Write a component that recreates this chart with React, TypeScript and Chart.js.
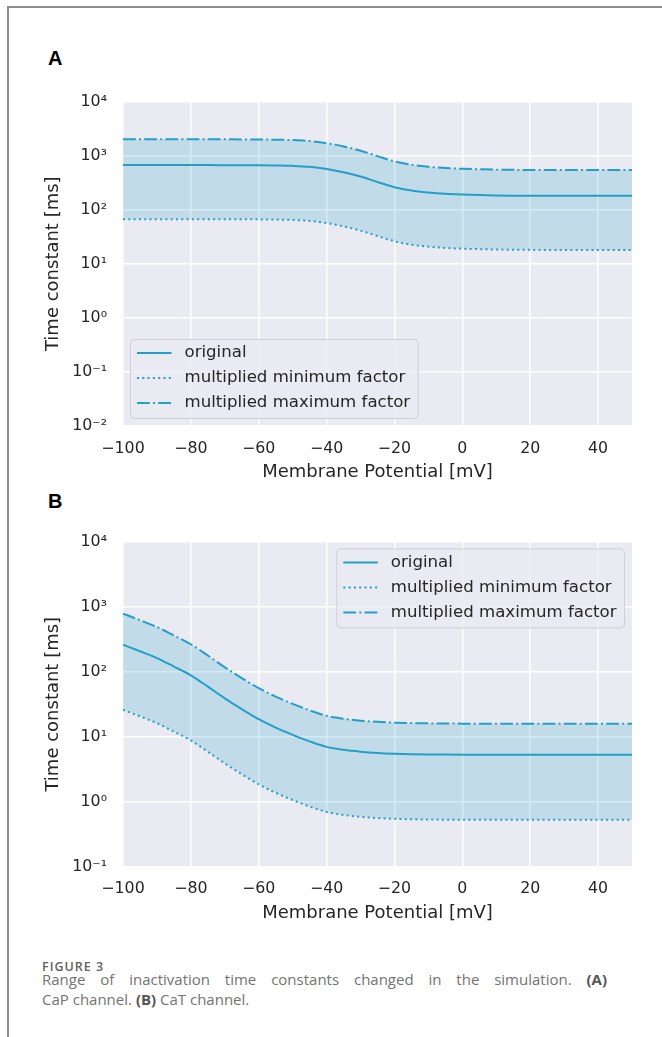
import React, { useEffect, useRef } from "react";
import { Chart, registerables } from "chart.js";

Chart.register(...registerables);

// ---------------- data ----------------
const VOLTAGE = [
  -100, -95, -90, -85, -80, -75, -70, -65, -60, -55, -50, -45, -40, -35, -30, -25,
  -20, -15, -10, -5, 0, 5, 10, 15, 20, 25, 30, 35, 40, 45, 50,
];
const X_TICKS = [-100, -80, -60, -40, -20, 0, 20, 40];

// Panel A: CaP channel
const A_ORIGINAL = [
  667, 667, 667, 667, 666, 666, 665, 664, 661, 655, 645, 620, 565, 490, 410, 325,
  260, 225, 207, 196, 190, 186, 183, 181.5, 180.5, 180, 180, 180, 180, 180, 180,
];
const A_MIN = [
  66.7, 66.7, 66.7, 66.7, 66.6, 66.6, 66.5, 66.4, 66.1, 65.5, 64.5, 62, 56.5, 49, 41, 32.5,
  26, 22.5, 20.7, 19.6, 19, 18.6, 18.3, 18.15, 18.05, 18, 18, 18, 18, 18, 18,
];
const A_MAX = [
  2001, 2001, 2001, 2001, 1998, 1998, 1995, 1992, 1983, 1965, 1935, 1860, 1695, 1470, 1230, 975,
  780, 675, 621, 588, 570, 558, 549, 544.5, 541.5, 540, 540, 540, 540, 540, 540,
];
const A_Y_TICKS = [0.01, 0.1, 1, 10, 100, 1000, 10000];

// Panel B: CaT channel
const B_ORIGINAL = [
  260, 206, 162, 120, 88, 59, 39, 26.6, 18.6, 13.8, 10.7, 8.5, 7.0, 6.3, 5.9, 5.65,
  5.5, 5.41, 5.36, 5.33, 5.31, 5.3, 5.3, 5.3, 5.3, 5.3, 5.3, 5.3, 5.3, 5.3, 5.3,
];
const B_MIN = [
  26, 20.6, 16.2, 12, 8.8, 5.9, 3.9, 2.66, 1.86, 1.38, 1.07, 0.85, 0.7, 0.63, 0.59, 0.565,
  0.55, 0.541, 0.536, 0.533, 0.531, 0.53, 0.53, 0.53, 0.53, 0.53, 0.53, 0.53, 0.53, 0.53, 0.53,
];
const B_MAX = [
  780, 618, 486, 360, 264, 177, 117, 79.8, 55.8, 41.4, 32.1, 25.5, 21, 18.9, 17.7, 16.95,
  16.5, 16.23, 16.08, 15.99, 15.93, 15.9, 15.9, 15.9, 15.9, 15.9, 15.9, 15.9, 15.9, 15.9, 15.9,
];
const B_Y_TICKS = [0.1, 1, 10, 100, 1000, 10000];

const LEGEND_LABELS = ["original", "multiplied minimum factor", "multiplied maximum factor"];
const X_TITLE = "Membrane Potential [mV]";
const Y_TITLE = "Time constant [ms]";

// ---------------- styles ----------------
const LINE_COLOR = "#239fc8";
const FILL_COLOR = "rgba(35,159,200,0.2)";
const DASHES: number[][] = [[], [2, 3.3], [12.8, 3.2, 2, 3.2]];
const TEXT_COLOR = "#262626";
const FONT = '"DejaVu Sans", sans-serif';

const SUP: Record<string, string> = {
  "0": "\u2070", "1": "\u00b9", "2": "\u00b2", "3": "\u00b3", "4": "\u2074",
  "-": "\u207b",
};
function logLabel(v: number): string {
  const e = Math.round(Math.log10(v));
  return "10" + String(e).split("").map((c) => SUP[c]).join("");
}

const bgPlugin = {
  id: "plotBg",
  beforeDraw(chart: any) {
    const { ctx, chartArea: a } = chart;
    ctx.save();
    ctx.fillStyle = "#EAEAF2";
    ctx.fillRect(a.left, a.top, a.right - a.left, a.bottom - a.top);
    ctx.restore();
  },
};

function legendPlugin(pos: "lowerLeft" | "upperRight") {
  return {
    id: "customLegend",
    afterDraw(chart: any) {
      const { ctx, chartArea: a } = chart;
      ctx.save();
      ctx.font = `16.6px ${FONT}`;
      const tw = Math.max(...LEGEND_LABELS.map((t) => ctx.measureText(t).width));
      const w = 54 + tw + 8;
      const h = 79;
      const gap = 7.5;
      const x = pos === "lowerLeft" ? a.left + gap : a.right - gap - w;
      const y = pos === "lowerLeft" ? a.bottom - gap - h : a.top + gap;
      const r = 4;
      ctx.beginPath();
      ctx.moveTo(x + r, y);
      ctx.lineTo(x + w - r, y);
      ctx.arcTo(x + w, y, x + w, y + r, r);
      ctx.lineTo(x + w, y + h - r);
      ctx.arcTo(x + w, y + h, x + w - r, y + h, r);
      ctx.lineTo(x + r, y + h);
      ctx.arcTo(x, y + h, x, y + h - r, r);
      ctx.lineTo(x, y + r);
      ctx.arcTo(x, y, x + r, y, r);
      ctx.closePath();
      ctx.fillStyle = "rgba(234,234,242,0.8)";
      ctx.fill();
      ctx.strokeStyle = "#cfcfd6";
      ctx.lineWidth = 1;
      ctx.stroke();
      LEGEND_LABELS.forEach((label, i) => {
        const cy = y + 13.5 + 25 * i;
        ctx.beginPath();
        ctx.setLineDash(DASHES[i]);
        ctx.strokeStyle = LINE_COLOR;
        ctx.lineWidth = 2;
        ctx.moveTo(x + 6.5, cy);
        ctx.lineTo(x + 41, cy);
        ctx.stroke();
        ctx.setLineDash([]);
        ctx.fillStyle = TEXT_COLOR;
        ctx.textBaseline = "middle";
        ctx.textAlign = "left";
        ctx.fillText(label, x + 54, cy);
      });
      ctx.restore();
    },
  };
}

function makeConfig(
  orig: number[],
  min: number[],
  max: number[],
  yTicks: number[],
  legendPos: "lowerLeft" | "upperRight",
  padTop: number,
  xAxisH: number,
  tickPad: number,
  titlePadBottom: number
): any {
  const pts = (vals: number[]) => VOLTAGE.map((v, i) => ({ x: v, y: vals[i] }));
  const common = {
    borderColor: LINE_COLOR,
    borderWidth: 2,
    pointRadius: 0,
    cubicInterpolationMode: "monotone",
  };
  return {
    type: "line",
    data: {
      datasets: [
        { ...common, label: LEGEND_LABELS[0], data: pts(orig), borderDash: DASHES[0], fill: false },
        { ...common, label: LEGEND_LABELS[1], data: pts(min), borderDash: DASHES[1], fill: false },
        {
          ...common,
          label: LEGEND_LABELS[2],
          data: pts(max),
          borderDash: DASHES[2],
          fill: 1,
          backgroundColor: FILL_COLOR,
        },
      ],
    },
    options: {
      animation: false,
      responsive: false,
      events: [],
      layout: { padding: { left: 0, right: 30, top: padTop, bottom: 0 } },
      plugins: { legend: { display: false }, tooltip: { enabled: false } },
      scales: {
        x: {
          type: "linear",
          min: -100,
          max: 50,
          afterBuildTicks: (s: any) => {
            s.ticks = X_TICKS.map((v) => ({ value: v }));
          },
          afterFit: (s: any) => {
            s.height = xAxisH;
          },
          grid: { color: "#ffffff", lineWidth: 1.5, drawTicks: false },
          border: { display: false },
          ticks: {
            autoSkip: false,
            maxRotation: 0,
            padding: tickPad,
            color: TEXT_COLOR,
            font: { family: FONT, size: 15.8 },
            callback: (v: any) => String(v).replace("-", "\u2212"),
          },
          title: {
            display: true,
            text: X_TITLE,
            color: TEXT_COLOR,
            font: { family: FONT, size: 18 },
            padding: { top: 0, bottom: titlePadBottom },
          },
        },
        y: {
          type: "logarithmic",
          min: yTicks[0],
          max: yTicks[yTicks.length - 1],
          afterBuildTicks: (s: any) => {
            s.ticks = yTicks.map((v) => ({ value: v }));
          },
          afterFit: (s: any) => {
            s.width = 123;
          },
          grid: { color: "#ffffff", lineWidth: 1.5, drawTicks: false },
          border: { display: false },
          ticks: {
            autoSkip: false,
            padding: 16,
            color: TEXT_COLOR,
            font: { family: FONT, size: 15.8 },
            callback: (v: any) => logLabel(Number(v)),
          },
          title: {
            display: true,
            text: Y_TITLE,
            color: TEXT_COLOR,
            font: { family: FONT, size: 18 },
            padding: { top: 42.7, bottom: 0 },
          },
        },
      },
    },
    plugins: [bgPlugin, legendPlugin(legendPos)],
  };
}

function Panel(props: { config: any; top: number; height: number }) {
  const ref = useRef<HTMLCanvasElement | null>(null);
  useEffect(() => {
    if (!ref.current) return;
    const chart = new Chart(ref.current, props.config);
    return () => chart.destroy();
  }, []);
  return (
    <canvas
      ref={ref}
      width={662}
      height={props.height}
      style={{ position: "absolute", left: 0, top: props.top, width: 662, height: props.height }}
    />
  );
}

export default function App() {
  const cfgA = makeConfig(A_ORIGINAL, A_MIN, A_MAX, A_Y_TICKS, "lowerLeft", 20, 64, 13.4, 7.2);
  const cfgB = makeConfig(B_ORIGINAL, B_MIN, B_MAX, B_Y_TICKS, "upperRight", 21, 63, 12.4, 6.2);
  const labelStyle: React.CSSProperties = {
    position: "absolute",
    left: 48,
    fontFamily: '"Liberation Sans", Arial, sans-serif',
    fontWeight: 700,
    fontSize: 20,
    lineHeight: "20px",
    color: "#000",
  };
  const captionStyle: React.CSSProperties = {
    position: "absolute",
    left: 42,
    fontFamily: '"Open Sans", sans-serif',
    fontWeight: 400,
    fontSize: 15,
    lineHeight: "20px",
    color: "#737373",
    whiteSpace: "nowrap",
  };
  return (
    <div
      style={{
        position: "fixed",
        left: 0,
        top: 0,
        width: 662,
        height: 1037,
        overflow: "hidden",
        background: "#fff",
      }}
    >
      <div
        style={{
          position: "absolute",
          left: 7,
          top: 6,
          width: 720,
          height: 1100,
          border: "2px solid #8e8e8e",
          boxSizing: "border-box",
        }}
      />
      <div style={{ ...labelStyle, top: 47.5 }}>A</div>
      <Panel config={cfgA} top={76} height={414} />
      <div style={{ ...labelStyle, top: 490.5 }}>B</div>
      <Panel config={cfgB} top={516} height={414} />
      <div
        style={{
          position: "absolute",
          left: 42,
          top: 958.3,
          fontFamily: '"Open Sans", sans-serif',
          fontWeight: 600,
          fontSize: 12.5,
          lineHeight: "17px",
          letterSpacing: "1px",
          color: "#5f5f5f",
          whiteSpace: "nowrap",
        }}
      >
        FIGURE 3
      </div>
      <div
        style={{
          ...captionStyle,
          top: 969.2,
          width: 565,
          whiteSpace: "normal",
          textAlign: "justify",
          textAlignLast: "justify",
        }}
      >
        Range of inactivation time constants changed in the simulation.{" "}
        <b style={{ color: "#555" }}>(A)</b>
      </div>
      <div style={{ ...captionStyle, top: 989.2 }}>
        CaP channel. <b style={{ color: "#555" }}>(B)</b> CaT channel.
      </div>
    </div>
  );
}
